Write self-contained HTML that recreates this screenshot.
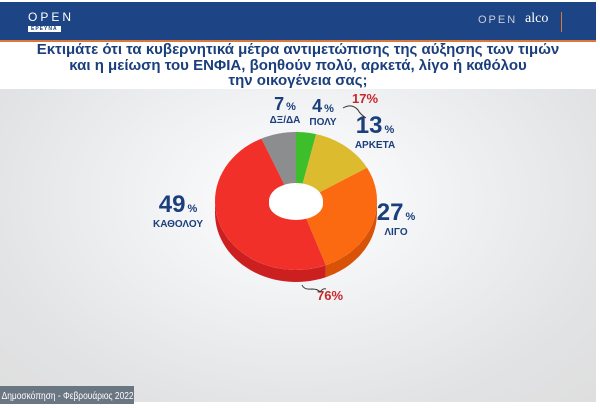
<!DOCTYPE html>
<html><head><meta charset="utf-8"><style>
body{margin:0;width:600px;height:408px;overflow:hidden;background:#fff;font-family:"Liberation Sans",sans-serif}
#hdr{position:absolute;left:0;top:2px;width:596px;height:38px;background:#1d4484;border-bottom:2px solid #d9783a}
#title{position:absolute;left:0;top:42px;width:596px;text-align:center;color:#1b3f7c;font-weight:bold;font-size:15px;line-height:15.5px}
#bg{position:absolute;left:0;top:89px;width:596px;height:313px;background:radial-gradient(ellipse at 50% 35%,#ffffff 0%,#f1f2f4 35%,#e2e3e5 75%,#dedede 100%)}
#foot{position:absolute;left:0;top:386px;width:134px;height:18px;background:#6b7683;overflow:hidden}
#foot span{display:inline-block;color:#fff;font-size:10.5px;line-height:18px;white-space:nowrap;transform:scaleX(0.8);transform-origin:0 50%;padding-left:2px}
svg{position:absolute;left:0;top:0}
</style></head><body>
<div id="hdr">
 <div style="position:absolute;left:28px;top:8px;color:#fff;font-size:12px;letter-spacing:3px">OPEN</div>
 <div style="position:absolute;left:28px;top:24px;background:#fff;color:#1d4484;font-size:5px;padding:0 3px;letter-spacing:1px;font-weight:bold">ΕΡΕΥΝΑ</div>
 <div style="position:absolute;left:478px;top:12px;color:#ccd;font-size:11px;letter-spacing:2px">OPEN</div>
 <div style="position:absolute;left:525px;top:9px;color:#fff;font-size:14px;font-family:'Liberation Serif',serif">alco</div>
 <div style="position:absolute;left:561px;top:10px;width:1px;height:20px;background:#d9783a"></div>
</div>
<div id="title">Εκτιμάτε ότι τα κυβερνητικά μέτρα αντιμετώπισης της αύξησης των τιμών<br>και η μείωση του ΕΝΦΙΑ, βοηθούν πολύ, αρκετά, λίγο ή καθόλου<br>την οικογένεια σας;</div>
<div id="bg"></div>
<svg id="chart" width="600" height="408"></svg>
<div id="foot"><span>Δημοσκόπηση - Φεβρουάριος 2022</span></div>
<script>
const categories=["ΠΟΛΥ","ΑΡΚΕΤΑ","ΛΙΓΟ","ΚΑΘΟΛΟΥ","ΔΞ/ΔΑ"];
const values=[4,13,27,49,7];
const colors=["#3cbf2a","#dcbb2e","#fb6a10","#f2302a","#8c8d8f"];
const sideColors=["#2a9a1c","#b89a20","#d85208","#cc2020","#6e6f71"];
const labelPct=["4","13","27","49","7"];
const groupLabels=["17%","76%"];
const NS="http://www.w3.org/2000/svg";
const svg=document.getElementById('chart');
const cx=296,cy=201,rx=81,ry=69,hx=27,hy=18,depth=12;
const total=values.reduce((a,b)=>a+b,0);
function pt(a,sx,sy,dy){return [cx+sx*Math.sin(a),cy+dy-sy*Math.cos(a)];}
function mk(tag,attrs){const e=document.createElementNS(NS,tag);for(const k in attrs)e.setAttribute(k,attrs[k]);svg.appendChild(e);return e;}
let angles=[],acc=0;
values.forEach(v=>{const a1=acc/total*2*Math.PI;acc+=v;angles.push([a1,acc/total*2*Math.PI]);});
angles.forEach(([a1,a2],i)=>{
 const s=Math.max(a1,Math.PI/2),e=Math.min(a2,3*Math.PI/2);
 if(e<=s)return;
 let d="";const N=30;
 for(let k=0;k<=N;k++){const a=s+(e-s)*k/N;const p=pt(a,rx,ry,0);d+=(k?"L":"M")+p[0].toFixed(1)+","+p[1].toFixed(1);}
 for(let k=N;k>=0;k--){const a=s+(e-s)*k/N;const p=pt(a,rx,ry,depth);d+="L"+p[0].toFixed(1)+","+p[1].toFixed(1);}
 const el=mk('path',{d:d+"Z",fill:sideColors[i]});
 
 
});
angles.forEach(([a1,a2],i)=>{
 let d="";const N=40;
 for(let k=0;k<=N;k++){const a=a1+(a2-a1)*k/N;const p=pt(a,rx,ry,0);d+=(k?"L":"M")+p[0].toFixed(1)+","+p[1].toFixed(1);}
 for(let k=N;k>=0;k--){const a=a1+(a2-a1)*k/N;const p=pt(a,hx,hy,0);d+="L"+p[0].toFixed(1)+","+p[1].toFixed(1);}
 const el=mk('path',{d:d+"Z",fill:colors[i]});
 
 
});
const hole=mk('ellipse',{cx:cx,cy:cy+3,rx:hx,ry:hy-2,fill:'#fff'});


const lpos=[[323,112],[375,133],[396,220],[178,212],[285,110]];
const lsize=[18,24,24,24,18];
categories.forEach((c,i)=>{
 const [x,y]=lpos[i];
 const t=mk('text',{x:x,y:y,fill:'#1b3f7c','font-weight':'bold','font-size':lsize[i],'text-anchor':'middle'});
 t.innerHTML=labelPct[i]+'<tspan font-size="11" dx="2">%</tspan>';
 
 
 const n=mk('text',{x:x,y:y+(lsize[i]>20?15:13),fill:'#1b3f7c','font-weight':'bold','font-size':10,'text-anchor':'middle'});
 n.textContent=c;
 
 
});
const g1=mk('text',{x:365,y:103,fill:'#c8282a','font-weight':'bold','font-size':13,'text-anchor':'middle'});g1.textContent=groupLabels[0];


const g2=mk('text',{x:330,y:300,fill:'#c8282a','font-weight':'bold','font-size':13,'text-anchor':'middle'});g2.textContent=groupLabels[1];


const b1=mk('path',{d:'M343,108 Q352,103 358,110 Q360,114 366,118',stroke:'#333',fill:'none','stroke-width':1});


const b2=mk('path',{d:'M302,285 Q304,290 312,289 Q318,289 320,292 Q323,288 326,289',stroke:'#333',fill:'none','stroke-width':1});


</script>
</body></html>
